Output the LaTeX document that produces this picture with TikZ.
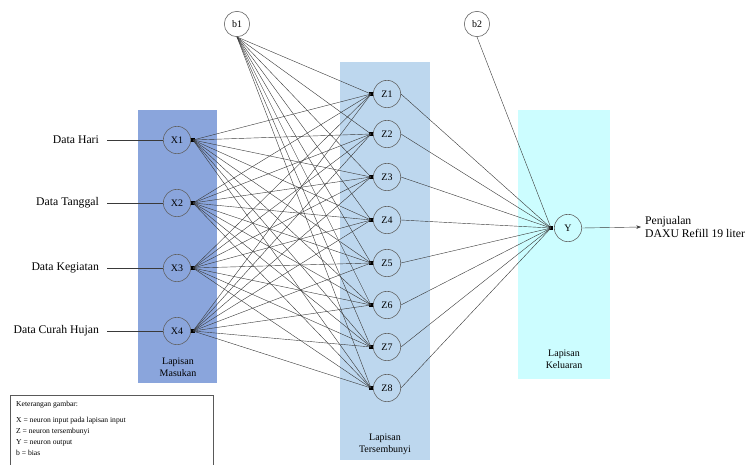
\documentclass[tikz,border=0pt]{standalone}
\usepackage{fontspec}
\setmainfont{Liberation Serif}
\usetikzlibrary{arrows.meta}

\definecolor{masukan}{HTML}{8AA5DC}
\definecolor{tersembunyi}{HTML}{BDD7EE}
\definecolor{keluaran}{HTML}{CCFDFF}
\definecolor{garis}{HTML}{3A3A3A}

\tikzset{
	neuron/.style={circle, draw=gray!75!black, line width=0.5pt, minimum size=0.82cm, inner sep=0pt, font=\fontsize{8.5}{9}\selectfont},
	bias/.style={neuron, minimum size=0.76cm},
	junc/.style={rectangle, fill=black, inner sep=0pt, minimum size=3.2pt},
	link/.style={draw=garis, line width=0.35pt},
	lapisan/.style={align=center, font=\fontsize{8.5}{10}\selectfont},
	datalabel/.style={anchor=east, font=\fontsize{10}{11}\selectfont}
}

\begin{document}
\begin{tikzpicture}[x=0.03cm, y=-0.03cm]
	\useasboundingbox (0,0) rectangle (753,464);

	% lapisan
	\fill[masukan] (138,110) rectangle (217,383);
	\fill[tersembunyi] (340,62) rectangle (430,460);
	\fill[keluaran] (518,110) rectangle (610,379);
	\node[lapisan] (lapM) at (178,367) {Lapisan\\Masukan};
	\node[lapisan] (lapT) at (385,444) {Lapisan\\Tersembunyi};
	\node[lapisan] (lapK) at (564,359) {Lapisan\\Keluaran};

	% neuron input
	\foreach \i/\y/\t in {1/140/Data Hari, 2/203/Data Tanggal, 3/268/Data Kegiatan, 4/331/Data Curah Hujan}{
		\node[neuron] (X\i) at (177,\y) {X\i};
		\node[junc] (jX\i) at (193,\y) {};
		\node[datalabel] (d\i) at (103,\y) {\t};
		\draw[link] (d\i.east) ++(4,0) -- (X\i.west);
	}

	% neuron tersembunyi
	\foreach \j/\y in {1/94, 2/134, 3/177, 4/220, 5/263, 6/305, 7/347, 8/388}{
		\node[neuron] (Z\j) at (387,\y) {Z\j};
		\node[junc] (jZ\j) at (371,\y) {};
	}

	% output
	\node[neuron] (Y) at (568,228) {Y};
	\node[junc] (jY) at (551,228) {};
	\node[bias] (b1) at (237,24) {b1};
	\node[bias] (b2) at (477,24) {b2};

	\foreach \i in {1,...,4}
		\foreach \j in {1,...,8}
			\draw[link] (jX\i.center) -- (jZ\j.center);
	\foreach \j in {1,...,8}{
		\draw[link] (b1.south) -- (jZ\j.center);
		\draw[link] (Z\j.east) -- (jY.center);
	}
	\draw[link] (b2.south) -- (jY.center);

	\node[anchor=west, align=left, font=\fontsize{10}{11}\selectfont] (hasil) at (641,227) {Penjualan\\DAXU Refill 19 liter};
	\draw[link, -{Stealth[length=4pt, width=3pt]}] (Y.east) -- (hasil.west);

	% keterangan
	\draw[gray!70!black, line width=0.4pt] (10,395) rectangle (213,472);
	\node[anchor=north west, align=left, font=\fontsize{6.5}{9.5}\selectfont] (ket) at (12,397) {Keterangan gambar:\\[4pt]
		X = neuron input pada lapisan input\\
		Z = neuron tersembunyi\\
		Y = neuron output\\
		b = bias};
\end{tikzpicture}
\end{document}
